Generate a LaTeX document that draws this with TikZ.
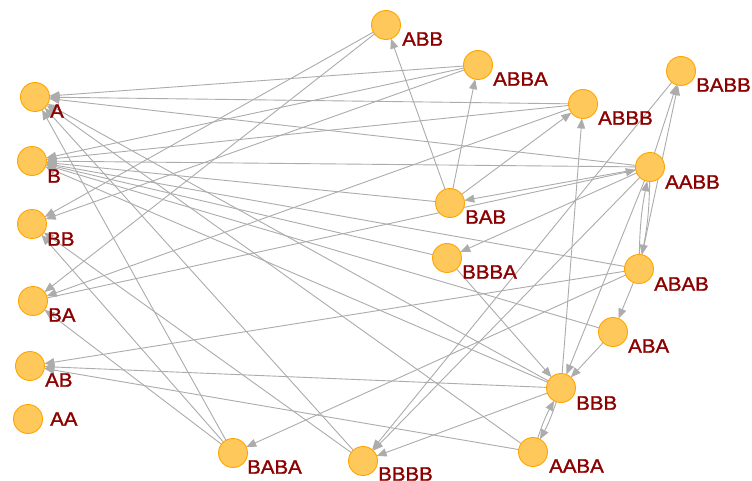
\documentclass[tikz,border=0pt]{standalone}
\usepackage{fontspec}
\newfontfamily\labfont[FakeStretch=1.05,FakeBold=1.3]{Liberation Sans}
\usetikzlibrary{arrows.meta}
\pgfdeclarelayer{canvas}
\pgfdeclarelayer{bg}
\pgfsetlayers{canvas,bg,main}
\definecolor{nodefill}{RGB}{255,200,90}
\definecolor{nodeline}{RGB}{255,165,0}
\definecolor{edgecol}{RGB}{172,172,172}
\definecolor{labcol}{RGB}{140,0,0}
\tikzset{
  vtx/.style={circle, fill=nodefill, draw=nodeline, line width=0.9pt, minimum size=29pt, inner sep=0pt, outer sep=0pt},
  lab/.style={text=labcol, font=\labfont\fontsize{19.5}{20}\selectfont, inner sep=0pt, anchor=west},
  edge/.style={draw=edgecol, line width=0.9pt, -{Triangle[length=10pt,width=8pt]}}
}
\begin{document}
\begin{tikzpicture}[x=1pt,y=-1pt]
\begin{pgfonlayer}{canvas}
\fill[white] (0,0) rectangle (752,481);
\end{pgfonlayer}
\useasboundingbox (0,0) rectangle (752,481);
% vertices
\node[vtx] (A) at (35,97) {};
\node[vtx] (B) at (32,161) {};
\node[vtx] (BB) at (32,224) {};
\node[vtx] (BA) at (33,301) {};
\node[vtx] (AB) at (30,366) {};
\node[vtx] (AA) at (28,419) {};
\node[vtx] (ABB) at (386,25) {};
\node[vtx] (ABBA) at (478,65) {};
\node[vtx] (ABBB) at (583,104) {};
\node[vtx] (BABB) at (681,71) {};
\node[vtx] (AABB) at (650,167) {};
\node[vtx] (BAB) at (450,203) {};
\node[vtx] (BBBA) at (447,258) {};
\node[vtx] (ABAB) at (639,269) {};
\node[vtx] (ABA) at (613,332) {};
\node[vtx] (BBB) at (561,388) {};
\node[vtx] (AABA) at (533,452) {};
\node[vtx] (BBBB) at (363,461) {};
\node[vtx] (BABA) at (233,453) {};
% labels
\node[lab] (lA) at (50,111) {A};
\node[lab] (lB) at (47,176) {B};
\node[lab] (lBB) at (47,239) {BB};
\node[lab] (lBA) at (48,315) {BA};
\node[lab] (lAB) at (45,380) {AB};
\node[lab] (lAA) at (50,419) {AA};
\node[lab] (lABB) at (402,39) {ABB};
\node[lab] (lABBA) at (493,79) {ABBA};
\node[lab] (lABBB) at (598,118) {ABBB};
\node[lab] (lBABB) at (696,85) {BABB};
\node[lab] (lAABB) at (665,182) {AABB};
\node[lab] (lBAB) at (465,217) {BAB};
\node[lab] (lBBBA) at (462,272) {BBBA};
\node[lab] (lABAB) at (654,284) {ABAB};
\node[lab] (lABA) at (628,346) {ABA};
\node[lab] (lBBB) at (576,403) {BBB};
\node[lab] (lAABA) at (549,466) {AABA};
\node[lab] (lBBBB) at (378,474) {BBBB};
\node[lab] (lBABA) at (247,467) {BABA};
% edges
\begin{pgfonlayer}{bg}
\draw[edge] (ABBA) -- (A);
\draw[edge] (ABBB) -- (A);
\draw[edge] (AABB) -- (A);
\draw[edge] (BABA) -- (A);
\draw[edge] (BBBB) -- (A);
\draw[edge] (AABA) -- (A);
\draw[edge] (BBB) -- (A);
\draw[edge] (ABBA) -- (B);
\draw[edge] (ABBB) -- (B);
\draw[edge] (AABB) -- (B);
\draw[edge] (BAB) -- (B);
\draw[edge] (ABA) -- (B);
\draw[edge] (ABAB) -- (B);
\draw[edge] (BBB) -- (B);
\draw[edge] (BBBA) -- (B);
\draw[edge] (ABBA) -- (BB);
\draw[edge] (ABB) -- (BB);
\draw[edge] (BABA) -- (BB);
\draw[edge] (BBBB) -- (BB);
\draw[edge] (ABB) -- (BA);
\draw[edge] (ABBB) -- (BA);
\draw[edge] (BABA) -- (BA);
\draw[edge] (BA) -- (AABB);
\draw[edge] (ABAB) -- (AB);
\draw[edge] (BBB) -- (AB);
\draw[edge] (AABA) -- (AB);
\draw[edge] (BAB) -- (ABB);
\draw[edge] (BAB) -- (ABBA);
\draw[edge] (BAB) -- (ABBB);
\draw[edge] (AABB) -- (BAB);
\draw[edge] (BBB) -- (ABBB);
\draw[edge] (AABB) -- (BABB);
\draw[edge] (ABAB) -- (BABB);
\draw[edge] (AABB) to[bend left=5] (ABAB);
\draw[edge] (ABAB) to[bend left=5] (AABB);
\draw[edge] (AABB) -- (BBBA);
\draw[edge] (BBBA) -- (BBB);
\draw[edge] (AABB) -- (BBB);
\draw[edge] (ABA) -- (BBB);
\draw[edge] (ABAB) -- (ABA);
\draw[edge] (BBB) to[bend left=5] (AABA);
\draw[edge] (AABA) to[bend left=5] (BBB);
\draw[edge] (BBB) -- (BBBB);
\draw[edge] (BABB) -- (BBBB);
\draw[edge] (AABB) -- (BBBB);
\draw[edge] (ABAB) -- (BABA);
\end{pgfonlayer}
\end{tikzpicture}
\end{document}
